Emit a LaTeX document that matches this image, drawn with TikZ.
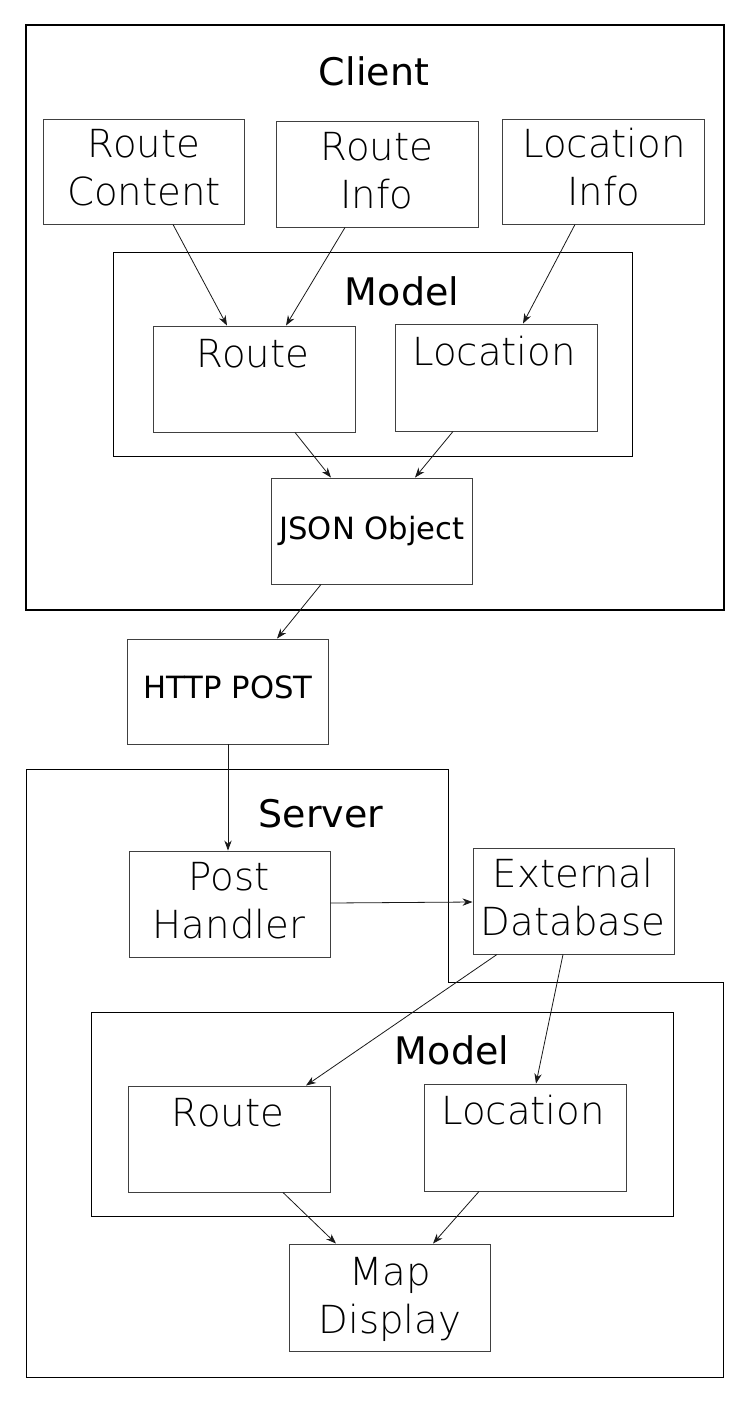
\documentclass[tikz,border=0pt]{standalone}
\usepackage{fontspec}
\setmainfont{DejaVu Sans}
\IfFontExistsTF{DejaVu Sans ExtraLight}{\newfontfamily\lightf{DejaVu Sans ExtraLight}}{\newfontfamily\lightf{DejaVu Sans}}
\usetikzlibrary{arrows.meta,calc,fit}
\begin{document}
\begin{tikzpicture}[x=0.75pt,y=-0.75pt,
  box/.style={draw=black!75,line width=0.7pt,inner sep=0pt,fit={#1}},
  grp/.style={draw=black,line width=0.75pt,inner sep=0pt,fit={#1}},
  big/.style={font=\fontsize{28.5}{36}\selectfont,anchor=base,inner sep=0pt},
  lt/.style={font=\lightf\fontsize{29}{36}\selectfont,anchor=base,inner sep=0pt,align=center},
  mid/.style={font=\fontsize{23}{28}\selectfont,anchor=base,inner sep=0pt},
  arr/.style={-{Stealth[length=7.5pt,width=5.5pt]},line width=0.6pt,black!90}]
\useasboundingbox (0,0) rectangle (750,1404);
% client
\node[draw=black,line width=1.5pt,inner sep=0pt,fit={(26,25) (724,610)}] (client) {};
\node[big] (tclient) at (374,85) {Client};
\node[box={(43,119) (244,224)}] (rc) {};
\node[box={(276,121) (478,227)}] (ri) {};
\node[box={(502,119) (704,224)}] (li) {};
\node[lt] (trc) at (144,205) {Route\\Content};
\node[lt] (tri) at (377,208) {Route\\Info};
\node[lt] (tli) at (604,205) {Location\\Info};
\node[grp={(113,252) (632,456)}] (modc) {};
\node[big] (tmodc) at (402,305) {Model};
\node[box={(153,326) (355,432)}] (routec) {};
\node[box={(395,324) (597,431)}] (locc) {};
\node[lt] (troutec) at (253,367) {Route};
\node[lt] (tlocc) at (494,365) {Location};
\node[box={(271,478) (472,584)}] (json) {};
\node[mid] (tjson) at (372,539) {JSON Object};
% http
\node[box={(127,639) (328,744)}] (http) {};
\node[mid] (thttp) at (228,698) {HTTP POST};
% server
\draw[line width=0.75pt] (26,769) coordinate (s1) -- (448,769) -- (448,982) -- (723,982) -- (723,1377) -- (26,1377) -- cycle;
\node[big] (tserver) at (321,827) {Server};
\node[box={(129,851) (330,957)}] (ph) {};
\node[lt] (tph) at (229,938) {Post\\Handler};
\node[box={(473,848) (674,954)}] (edb) {};
\node[lt] (tedb) at (573,935) {External\\Database};
\node[grp={(91,1012) (673,1216)}] (mods) {};
\node[big] (tmods) at (452,1064) {Model};
\node[box={(128,1086) (330,1192)}] (routes) {};
\node[box={(424,1084) (626,1191)}] (locs) {};
\node[lt] (troutes) at (228,1126) {Route};
\node[lt] (tlocs) at (523,1124) {Location};
\node[box={(289,1244) (490,1351)}] (map) {};
\node[lt] (tmap) at (390,1333) {Map\\Display};
% arrows
\draw[arr] ($(rc.south)+(29.5,0)$) -- ($(routec.north)+(-27,0)$);
\draw[arr] ($(ri.south)+(-32,0)$) -- ($(routec.north)+(32,0)$);
\draw[arr] ($(li.south)+(-28,0)$) -- ($(locc.north)+(27,0)$);
\draw[arr] ($(routec.south)+(41,0)$) -- ($(json.north)+(-40.5,0)$);
\draw[arr] ($(locc.south)+(-43,0)$) -- ($(json.north)+(43.5,0)$);
\draw[arr] ($(json.south)+(-50.5,0)$) -- ($(http.north)+(49.5,0)$);
\draw[arr] ($(http.south)+(0.5,0)$) -- ($(ph.north)+(-1.5,0)$);
\draw[arr] ($(ph.east)+(0,-1)$) -- ($(edb.west)+(0,1)$);
\draw[arr] ($(edb.south)+(-76.5,0)$) -- ($(routes.north)+(77,0)$);
\draw[arr] ($(edb.south)+(-10.5,0)$) -- ($(locs.north)+(11,0)$);
\draw[arr] ($(routes.south)+(54,0)$) -- ($(map.north)+(-53.5,0)$);
\draw[arr] ($(locs.south)+(-46,0)$) -- ($(map.north)+(43.5,0)$);
\end{tikzpicture}
\end{document}
